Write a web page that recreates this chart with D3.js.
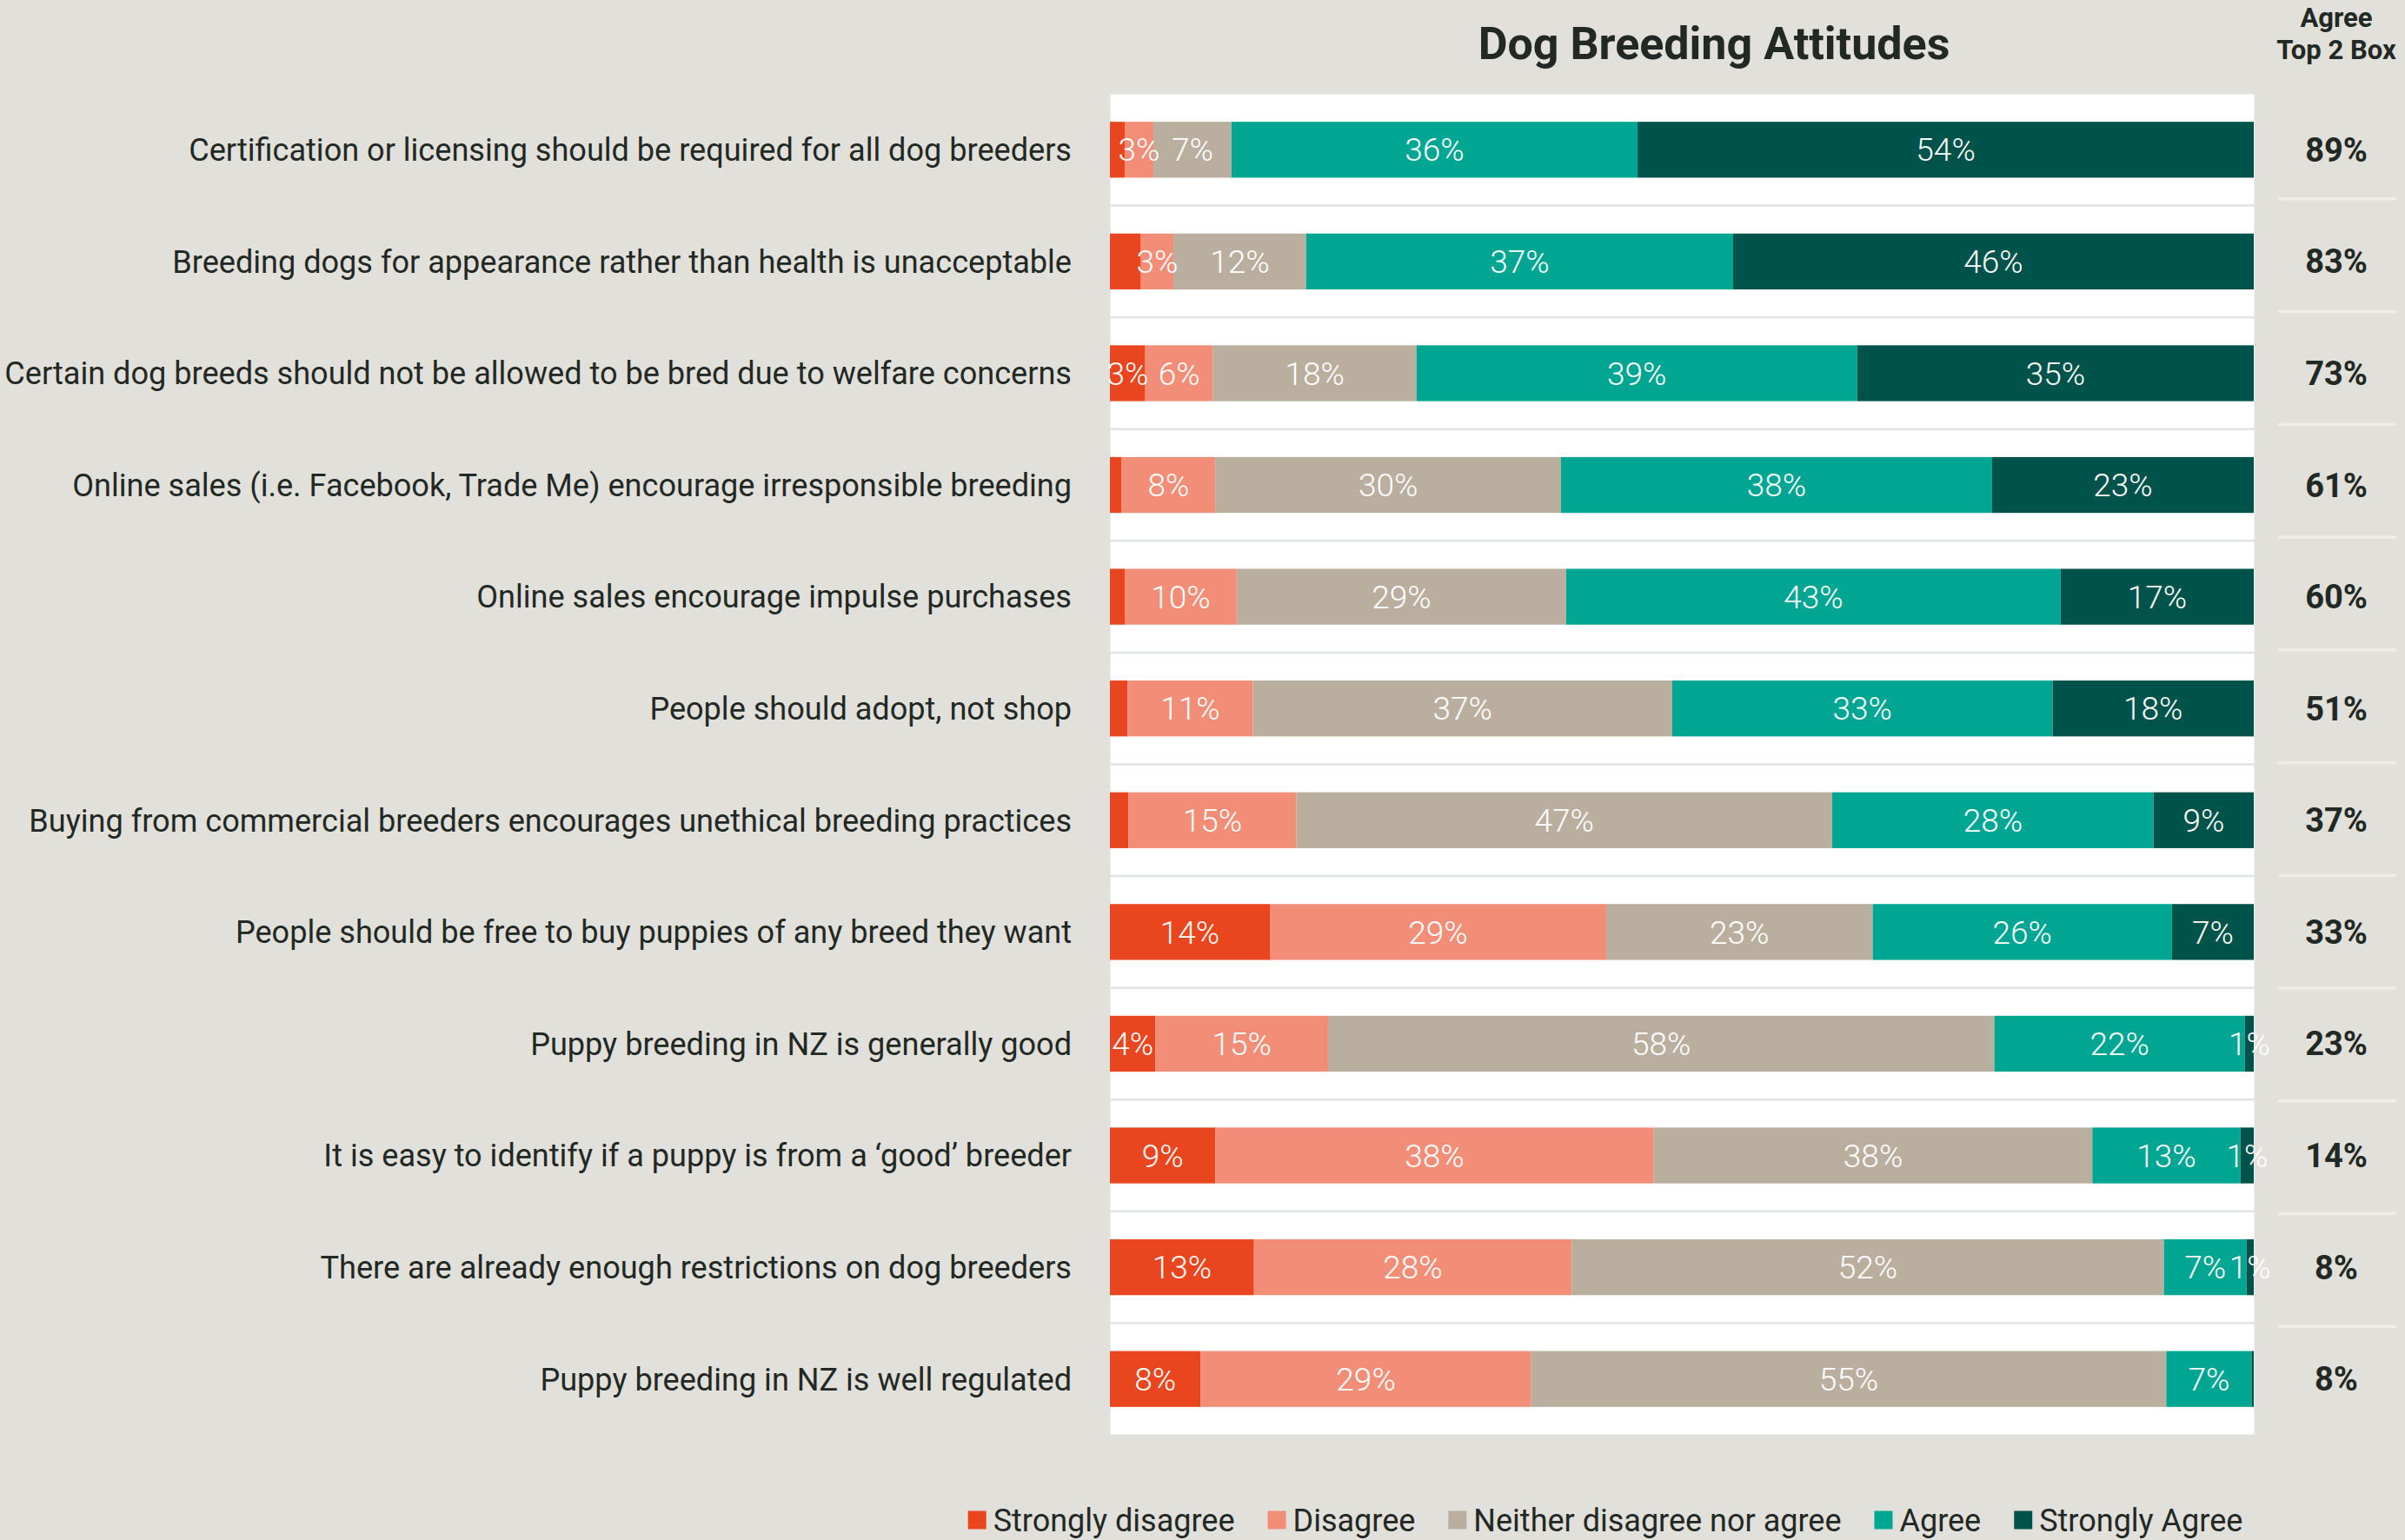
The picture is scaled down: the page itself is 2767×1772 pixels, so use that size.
<!DOCTYPE html>
<html>
<head>
<meta charset="utf-8">
<script src="https://cdn.jsdelivr.net/npm/d3@7"></script>
<style>
  html, body { margin: 0; padding: 0; background: #E2E0DA; }
  svg { display: block; }
</style>
</head>
<body>
<script>
// ---------------- DATA ----------------
const categories = [
  "Certification or licensing should be required for all dog breeders",
  "Breeding dogs for appearance rather than health is unacceptable",
  "Certain dog breeds should not be allowed to be bred due to welfare concerns",
  "Online sales (i.e. Facebook, Trade Me) encourage irresponsible breeding",
  "Online sales encourage impulse purchases",
  "People should adopt, not shop",
  "Buying from commercial breeders encourages unethical breeding practices",
  "People should be free to buy puppies of any breed they want",
  "Puppy breeding in NZ is generally good",
  "It is easy to identify if a puppy is from a \u2018good\u2019 breeder",
  "There are already enough restrictions on dog breeders",
  "Puppy breeding in NZ is well regulated"
];
const seriesNames = ["Strongly disagree", "Disagree", "Neither disagree nor agree", "Agree", "Strongly Agree"];
const stronglyDisagree = [1.29, 2.71, 3.09, 1.03, 1.29, 1.55, 1.61, 13.98, 3.99, 9.21, 12.6, 7.93];
const disagree         = [2.51, 2.84, 5.93, 8.18, 9.79, 10.95, 14.69, 29.4, 15.08, 38.34, 27.8, 28.87];
const neither          = [6.83, 11.6, 17.78, 30.22, 28.8, 36.66, 46.84, 23.3, 58.25, 38.34, 51.8, 55.48];
const agree            = [35.5, 37.3, 38.53, 37.69, 43.23, 33.25, 28.09, 26.16, 21.91, 12.95, 7.22, 7.45];
const stronglyAgree    = [53.87, 45.5, 34.66, 22.87, 16.88, 17.59, 8.76, 7.15, 0.77, 1.16, 0.64, 0.19];
// smallest value that still gets a data label, per series
const labelMin = [3, 2, 2, 2, 0.5];
const seriesColors = ["#E9451E", "#F28E78", "#BAAE9E", "#00A692", "#00534A"];

// ---------------- LAYOUT ----------------
const W = 2767, H = 1772;
const panel = { x0: 1277, x1: 2594, y0: 108, y1: 1651 };
const barX1 = 2593;
const labelRight = 1233;
const rightCol = { cx: 2688, x0: 2621, x1: 2757 };
const textDark = "#222823";
const FONT = "Roboto, 'Noto Sans', 'DejaVu Sans', sans-serif";

const seriesArrays = [stronglyDisagree, disagree, neither, agree, stronglyAgree];
const table = categories.map((c, i) => {
  const row = { category: c };
  seriesNames.forEach((s, k) => { row[s] = seriesArrays[k][i]; });
  return row;
});

const stack = d3.stack().keys(seriesNames).offset(d3.stackOffsetExpand);
const layers = stack(table);

const x = d3.scaleLinear().domain([0, 1]).range([panel.x0, barX1]);
const y = d3.scaleBand().domain(categories).range([panel.y0, panel.y1])
  .paddingInner(0.5).paddingOuter(0.25);
const color = d3.scaleOrdinal().domain(seriesNames).range(seriesColors);

const svg = d3.select("body").append("svg").attr("width", W).attr("height", H)
  .style("font-family", FONT);

svg.append("rect").attr("width", W).attr("height", H).attr("fill", "#E2E0DA");

// white plot panel
svg.append("rect")
  .attr("x", panel.x0).attr("y", panel.y0)
  .attr("width", panel.x1 - panel.x0).attr("height", panel.y1 - panel.y0)
  .attr("fill", "#FFFFFF").attr("stroke", "#DDE2E0").attr("stroke-width", 1);

// row separators inside panel
const step = y.step();
svg.append("g").selectAll("line").data(categories.slice(0, -1)).join("line")
  .attr("x1", panel.x0).attr("x2", panel.x1)
  .attr("y1", d => y(d) + y.bandwidth() + (step - y.bandwidth()) / 2)
  .attr("y2", d => y(d) + y.bandwidth() + (step - y.bandwidth()) / 2)
  .attr("stroke", "#DFE3E2").attr("stroke-width", 2.5);

// bars
const gLayers = svg.append("g").selectAll("g").data(layers).join("g")
  .attr("fill", d => color(d.key));
gLayers.selectAll("rect").data(d => d).join("rect")
  .attr("x", d => x(d[0]))
  .attr("width", d => Math.max(0, x(d[1]) - x(d[0])))
  .attr("y", d => y(d.data.category))
  .attr("height", y.bandwidth());

// segment labels
const labels = svg.append("g");
layers.forEach((layer, k) => {
  layer.forEach(d => {
    const v = d.data[layer.key];
    if (v < labelMin[k]) return;
    labels.append("text")
      .attr("x", (x(d[0]) + x(d[1])) / 2)
      .attr("y", y(d.data.category) + y.bandwidth() / 2)
      .attr("dy", "0.355em")
      .attr("text-anchor", "middle")
      .attr("fill", "#FFFFFF")
      .attr("font-size", 37)
      .attr("font-weight", 300)
      .text(Math.round(v) + "%");
  });
});

// category labels (y axis)
const yAxisG = svg.append("g").attr("transform", `translate(${labelRight},0)`)
  .call(d3.axisLeft(y).tickSize(0).tickPadding(0));
yAxisG.select(".domain").remove();
const catText = yAxisG.selectAll("text")
  .attr("fill", textDark).attr("font-family", FONT)
  .attr("font-size", 36).attr("dy", "0.355em");
let maxW = 0;
catText.each(function () { maxW = Math.max(maxW, this.getComputedTextLength()); });
if (maxW > 0) {
  const fs = Math.min(40, 36 * 1228 / maxW);
  catText.attr("font-size", fs);
}

// title
svg.append("text").attr("x", 1972).attr("y", 68)
  .attr("text-anchor", "middle").attr("font-size", 52).attr("font-weight", 700)
  .attr("fill", textDark).text("Dog Breeding Attitudes");

// Top 2 Box header
svg.append("text").attr("x", rightCol.cx).attr("y", 31)
  .attr("text-anchor", "middle").attr("font-size", 31).attr("font-weight", 700)
  .attr("fill", textDark).text("Agree");
svg.append("text").attr("x", rightCol.cx).attr("y", 68)
  .attr("text-anchor", "middle").attr("font-size", 31).attr("font-weight", 700)
  .attr("fill", textDark).text("Top 2 Box");

// right column separators
const yRight = d3.scaleBand().domain(categories).range([99, 99 + 12 * 129.76]);
svg.append("g").selectAll("line").data(categories.slice(0, -1)).join("line")
  .attr("x1", rightCol.x0).attr("x2", rightCol.x1)
  .attr("y1", d => yRight(d) + yRight.step())
  .attr("y2", d => yRight(d) + yRight.step())
  .attr("stroke", "#EEEDEA").attr("stroke-width", 3.5);

// Top 2 Box values
svg.append("g").selectAll("text").data(table).join("text")
  .attr("x", rightCol.cx)
  .attr("y", d => y(d.category) + y.bandwidth() / 2)
  .attr("dy", "0.355em")
  .attr("text-anchor", "middle").attr("font-size", 38).attr("font-weight", 700)
  .attr("fill", textDark)
  .text(d => Math.round(d["Agree"] + d["Strongly Agree"]) + "%");

// legend
const legend = svg.append("g");
const legendItems = legend.selectAll("g").data(seriesNames).join("g");
legendItems.append("rect").attr("width", 21).attr("height", 21)
  .attr("y", -10.5).attr("fill", d => color(d));
legendItems.append("text").attr("x", 29).attr("dy", "0.355em")
  .attr("font-size", 36).attr("fill", textDark).text(d => d);
let lx = 0;
const widths = [];
legendItems.each(function () {
  const tw = d3.select(this).select("text").node().getComputedTextLength();
  widths.push(29 + tw);
});
const gap = 38;
const totalW = d3.sum(widths) + gap * (widths.length - 1);
const legendCx = 1847;
lx = legendCx - totalW / 2;
legendItems.attr("transform", (d, i) => {
  const t = `translate(${lx},1749)`;
  lx += widths[i] + gap;
  return t;
});
</script>
</body>
</html>
